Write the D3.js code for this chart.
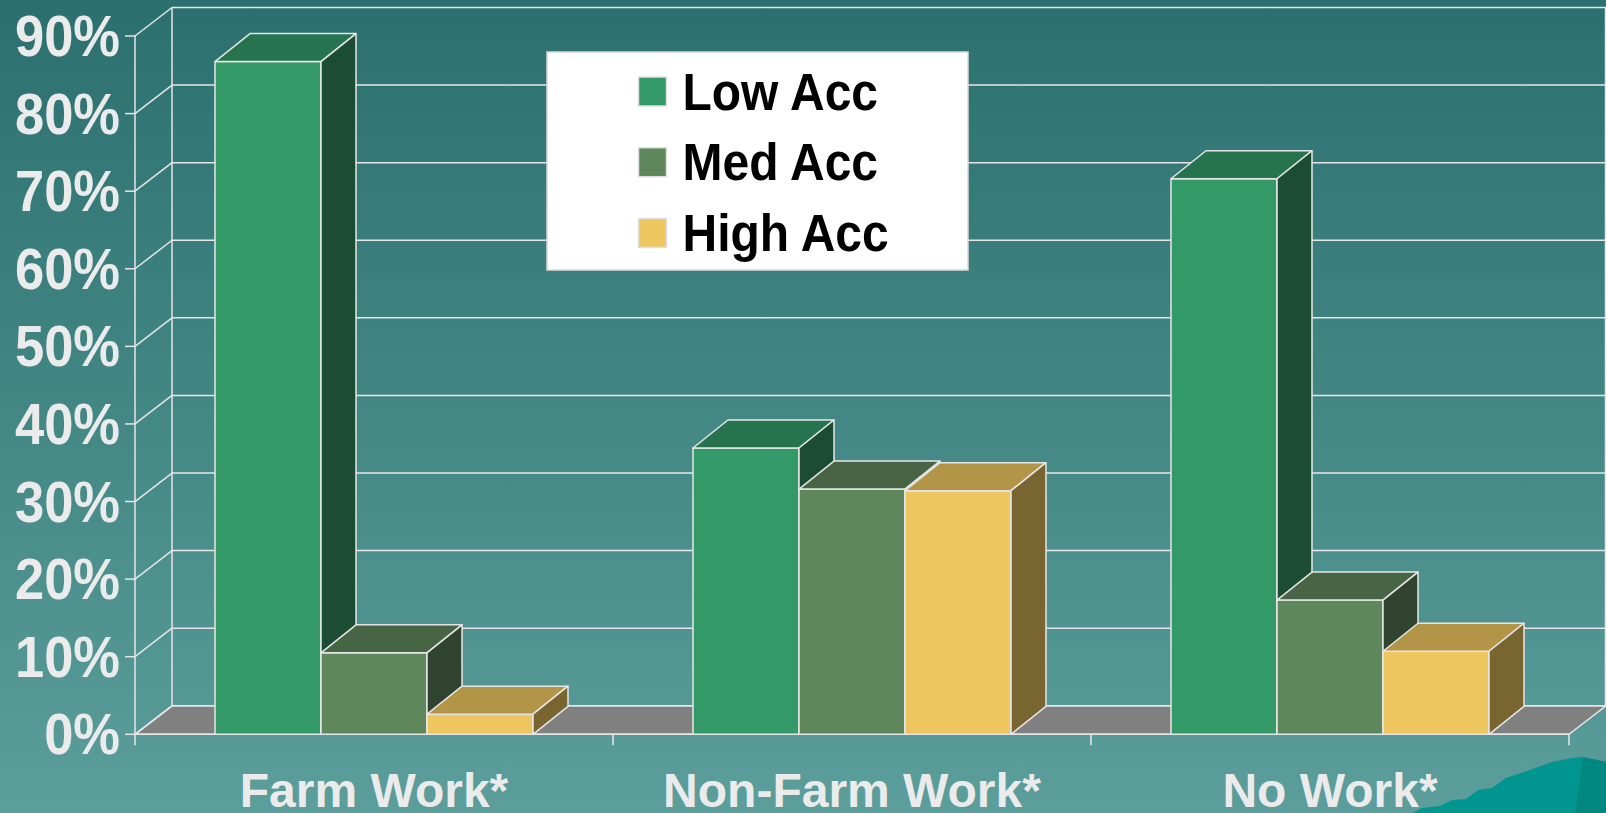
<!DOCTYPE html>
<html lang="en">
  <head>
    <meta charset="UTF-8" />
    <title>Work by access</title>
    <script src="https://cdn.jsdelivr.net/npm/d3@7"></script>
    <style>
      body { margin: 0; overflow: hidden; }
      text { font-family: "Liberation Sans", Arial, sans-serif; font-weight: bold; }
    </style>
  </head>
  <body>
    <div id="svgCanvas"></div>
    <script>
      // data
      var categories = ["Farm Work*", "Non-Farm Work*", "No Work*"];
      var series = ["Low Acc", "Med Acc", "High Acc"];
      var lowAcc = [0.867, 0.369, 0.716];
      var medAcc = [0.105, 0.316, 0.173];
      var highAcc = [0.026, 0.314, 0.107];
      var yTicks = [0, 0.1, 0.2, 0.3, 0.4, 0.5, 0.6, 0.7, 0.8, 0.9];

      var width = 1606,
        height = 813;

      var front = ["#339966", "#5f875c", "#edc660"],
        top_ = ["#267350", "#476545", "#b39548"],
        side = ["#1c4c33", "#30432f", "#786530"];
      var edge = "#e6e6e6";

      // depth of walls and bars (3d offset)
      var wdx = 37, wdy = 28.5;
      var bdx = 35, bdy = 28;

      var svg = d3
        .select("#svgCanvas")
        .append("svg")
        .attr("width", width)
        .attr("height", height);

      var defs = svg.append("defs");
      var bg = defs
        .append("linearGradient")
        .attr("id", "bg")
        .attr("x1", "0")
        .attr("x2", "0")
        .attr("y1", "0")
        .attr("y2", "1");
      bg.append("stop").attr("offset", "0%").attr("stop-color", "#2b706f");
      bg.append("stop").attr("offset", "100%").attr("stop-color", "#5b9e9b");

      svg
        .append("rect")
        .attr("width", width)
        .attr("height", height)
        .attr("fill", "url(#bg)");

      // scales
      var x0 = d3.scaleBand().domain(categories).range([135, 1569]);
      var x1 = d3
        .scaleBand()
        .domain(series)
        .range([80, x0.bandwidth() - 80]);
      var y = d3.scaleLinear().domain([0, 0.9]).range([734.3, 36]);
      var fmt = d3.format(".0%");

      var xL = x0.range()[0],
        xR = x0.range()[1];

      // floor
      svg
        .append("path")
        .attr(
          "d",
          "M" + xL + "," + y(0) +
            "L" + (xL + wdx) + "," + (y(0) - wdy) +
            "L" + (xR + wdx) + "," + (y(0) - wdy) +
            "L" + xR + "," + y(0) + "Z"
        )
        .attr("fill", "#808080")
        .attr("stroke", edge)
        .attr("stroke-width", 1.5);

      // back wall grid + left wall diagonals
      var grid = svg.append("g").attr("stroke", edge).attr("stroke-width", 1.5).attr("fill", "none");
      yTicks.forEach(function(t) {
        grid
          .append("line")
          .attr("x1", xL + wdx)
          .attr("x2", width)
          .attr("y1", y(t) - wdy)
          .attr("y2", y(t) - wdy);
        grid
          .append("line")
          .attr("x1", xL)
          .attr("x2", xL + wdx)
          .attr("y1", y(t))
          .attr("y2", y(t) - wdy);
      });
      grid
        .append("line")
        .attr("x1", xL + wdx)
        .attr("x2", xL + wdx)
        .attr("y1", y(0.9) - wdy)
        .attr("y2", y(0) - wdy);
      grid
        .append("line")
        .attr("x1", width - 0.5)
        .attr("x2", width - 0.5)
        .attr("y1", y(0.9) - wdy)
        .attr("y2", y(0) - wdy);

      // front axis
      grid
        .append("line")
        .attr("x1", xL)
        .attr("x2", xL)
        .attr("y1", y(0.9))
        .attr("y2", y(0) + 11);
      grid
        .append("line")
        .attr("x1", xL)
        .attr("x2", xR)
        .attr("y1", y(0))
        .attr("y2", y(0));
      categories.forEach(function(c) {
        grid
          .append("line")
          .attr("x1", x0(c) + x0.bandwidth())
          .attr("x2", x0(c) + x0.bandwidth())
          .attr("y1", y(0))
          .attr("y2", y(0) + 11);
      });
      yTicks.forEach(function(t) {
        grid
          .append("line")
          .attr("x1", xL - 10)
          .attr("x2", xL)
          .attr("y1", y(t))
          .attr("y2", y(t));
      });

      // y labels
      svg
        .append("g")
        .selectAll("text")
        .data(yTicks)
        .enter()
        .append("text")
        .attr("transform", function(d) {
          return "translate(120," + y(d) + ") scale(1,1.08)";
        })
        .attr("y", 18.5)
        .attr("text-anchor", "end")
        .attr("font-size", 52.5)
        .attr("fill", "#ebebeb")
        .text(function(d) { return fmt(d); });

      // bars
      var values = [lowAcc, medAcc, highAcc];
      var bars = svg.append("g").attr("stroke", edge).attr("stroke-width", 1.5).attr("stroke-linejoin", "round");
      categories.forEach(function(c, ci) {
        series.forEach(function(s, si) {
          var v = values[si][ci];
          var bx = x0(c) + x1(s),
            bw = x1.bandwidth(),
            by = y(v),
            b0 = y(0);
          bars
            .append("rect")
            .attr("x", bx)
            .attr("y", by)
            .attr("width", bw)
            .attr("height", b0 - by)
            .attr("fill", front[si]);
          bars
            .append("path")
            .attr(
              "d",
              "M" + bx + "," + by +
                "L" + (bx + bdx) + "," + (by - bdy) +
                "L" + (bx + bw + bdx) + "," + (by - bdy) +
                "L" + (bx + bw) + "," + by + "Z"
            )
            .attr("fill", top_[si]);
          bars
            .append("path")
            .attr(
              "d",
              "M" + (bx + bw) + "," + by +
                "L" + (bx + bw + bdx) + "," + (by - bdy) +
                "L" + (bx + bw + bdx) + "," + (b0 - bdy) +
                "L" + (bx + bw) + "," + b0 + "Z"
            )
            .attr("fill", side[si]);
        });
      });

      // x labels
      svg
        .append("g")
        .selectAll("text")
        .data(categories)
        .enter()
        .append("text")
        .attr("x", function(d) { return x0(d) + x0.bandwidth() / 2; })
        .attr("y", 806.5)
        .attr("text-anchor", "middle")
        .attr("font-size", 48)
        .attr("fill", "#ebebeb")
        .text(function(d) { return d; });

      // decorative hill bottom right
      svg
        .append("path")
        .attr("d", "M1413,813L1422,808L1440,806L1452,800L1466,799L1478,790L1492,788L1506,778L1530,770L1552,762L1572,758L1583,757L1606,762L1606,813Z")
        .attr("fill", "#00958f");
      svg
        .append("path")
        .attr("d", "M1583,757L1606,762L1606,813L1575,813Z")
        .attr("fill", "#00877f");

      // legend
      var legend = svg.append("g").attr("transform", "translate(547,52)");
      legend
        .append("rect")
        .attr("width", 421)
        .attr("height", 218)
        .attr("fill", "#ffffff")
        .attr("stroke", "#d8d8d8")
        .attr("stroke-width", 1.5);
      var items = legend
        .selectAll("g.item")
        .data(series)
        .enter()
        .append("g")
        .attr("class", "item")
        .attr("transform", function(d, i) {
          return "translate(0," + (i * 70.7) + ")";
        });
      items
        .append("rect")
        .attr("x", 91.5)
        .attr("y", 25)
        .attr("width", 28)
        .attr("height", 29)
        .attr("fill", function(d, i) { return front[i]; })
        .attr("stroke", "#e0e0e0")
        .attr("stroke-width", 1.5);
      items
        .append("text")
        .attr("transform", "translate(135.5,57.5) scale(1,1.08)")
        .attr("font-size", 48)
        .attr("fill", "#000")
        .text(function(d) { return d; });
    </script>
  </body>
</html>
